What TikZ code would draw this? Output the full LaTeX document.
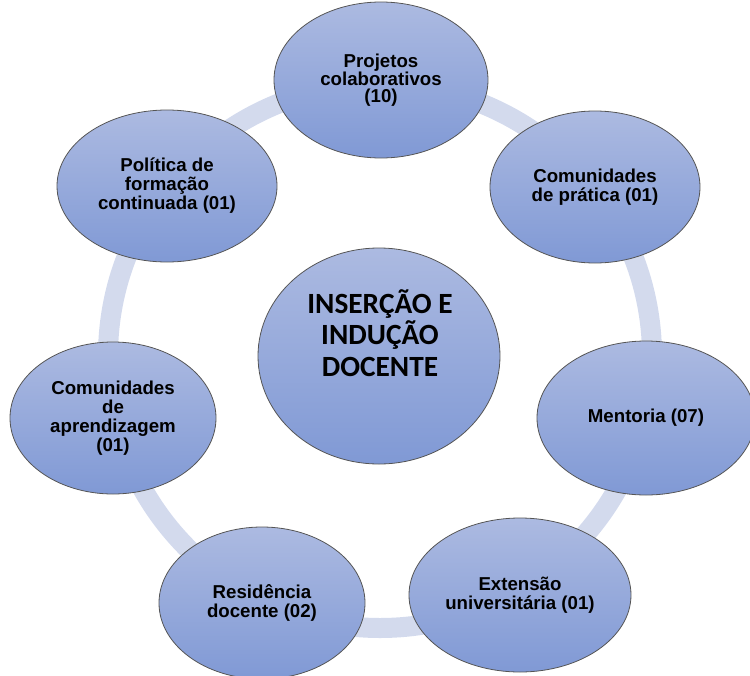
\documentclass[tikz,border=0pt]{standalone}
\usepackage{fontspec}
\setmainfont{Liberation Sans}
\newfontfamily\calib{Carlito}
\definecolor{ringblue}{RGB}{211,218,237}
\definecolor{bubtop}{RGB}{172,186,225}
\definecolor{bubbot}{RGB}{128,153,213}
\definecolor{bubline}{RGB}{85,85,85}
\tikzset{
  bub/.style={ellipse, draw=bubline, line width=0.6pt, top color=bubtop, bottom color=bubbot,
    inner sep=0pt, align=center, font=\bfseries\fontsize{14pt}{14.25pt}\selectfont},
  ringpath/.style={draw=ringblue, line width=15pt},
  hubtext/.style={align=center, inner sep=0pt, font=\calib\bfseries\fontsize{22pt}{23.5pt}\selectfont}
}
\usetikzlibrary{shapes.geometric}
\begin{document}
\begin{tikzpicture}[x=0.75pt, y=-0.75pt]
  \useasboundingbox (0,0) rectangle (750,675);
  % connecting ring behind the bubbles
  \coordinate (hubc) at (380,356);
  \draw[ringpath] (hubc) circle (204pt);
  % central bubble
  \node[bub, minimum width=181.5pt, minimum height=162pt] (hub) at (379,356) {};
  \node[hubtext] (hublabel) at (380,333) {INSERÇÃO E\\INDUÇÃO\\DOCENTE};
  % surrounding bubbles
  \node[bub, minimum width=160.5pt, minimum height=117pt,
        font=\bfseries\fontsize{14pt}{12.5pt}\selectfont] (proj) at (381,80)
        {Projetos\\colaborativos\\(10)};
  \node[bub, minimum width=157.5pt, minimum height=114pt] (cpra) at (595,187)
        {Comunidades\\de prática (01)};
  \node[bub, minimum width=163.5pt, minimum height=115.5pt] (ment) at (646,418)
        {Mentoria (07)};
  \node[bub, minimum width=166.5pt, minimum height=115.5pt] (ext) at (520,595)
        {Extensão\\universitária (01)};
  \node[bub, minimum width=154.5pt, minimum height=114pt] (res) at (262,603)
        {Residência\\docente (02)};
  \node[bub, minimum width=154.5pt, minimum height=114pt] (capr) at (113,418)
        {Comunidades\\de\\aprendizagem\\(01)};
  \node[bub, minimum width=165pt, minimum height=114pt] (pol) at (167,186)
        {Política de\\formação\\continuada (01)};
\end{tikzpicture}
\end{document}
